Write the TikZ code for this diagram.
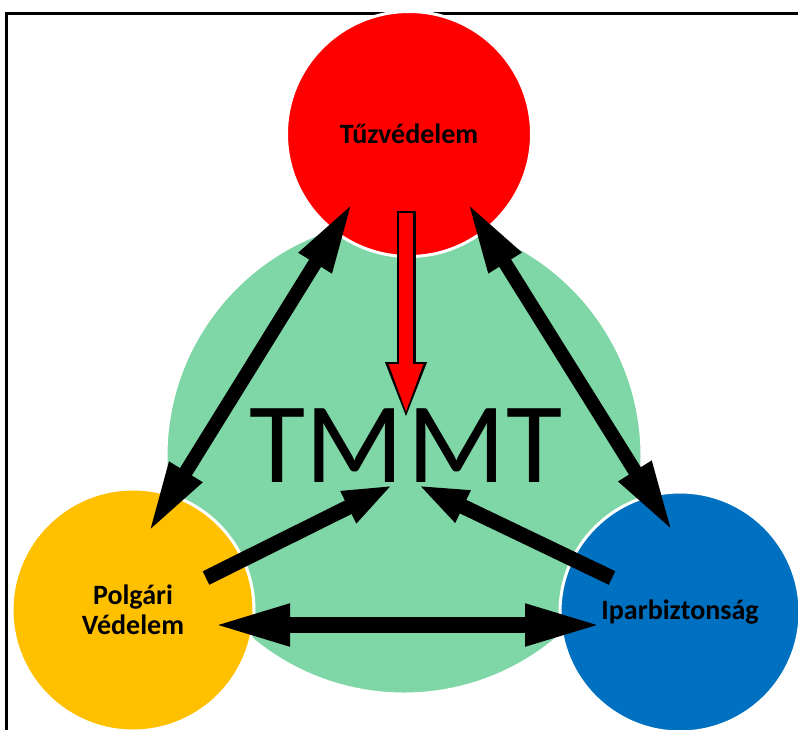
\documentclass[tikz,border=0pt]{standalone}
\usepackage{fontspec}
\setmainfont{Carlito}
\usetikzlibrary{arrows.meta,calc}
\definecolor{fireRed}{RGB}{255,0,0}
\definecolor{coreGreen}{RGB}{127,214,166}
\definecolor{civilYellow}{RGB}{255,192,0}
\definecolor{indBlue}{RGB}{0,112,192}
\begin{document}
\begin{tikzpicture}[x=1pt,y=-1pt,
  ring/.style={circle,draw=white,line width=3pt,inner sep=0pt,align=center,
               font=\fontsize{28}{30}\selectfont\bfseries},
  both/.style={line width=14pt,
               {Triangle[length=72pt,width=35pt]}-{Triangle[length=72pt,width=35pt]}},
  flat/.style={line width=16pt,
               {Triangle[length=78pt,width=38pt]}-{Triangle[length=78pt,width=38pt]}},
  into/.style={line width=15pt,-{Triangle[length=50pt,width=32pt]}}]
\useasboundingbox (0,0) rectangle (798,729);
\draw[line width=3pt] (6,760) |- (830,13);

\node[ring,fill=coreGreen,minimum size=476pt] (core) at (404,456) {};
\node[ring,fill=fireRed,minimum size=245pt] (fire) at (409,134) {Tűzvédelem};
\node[ring,fill=civilYellow,minimum size=242pt] (civil) at (133,610) {Polgári\\Védelem};
\node[ring,fill=indBlue,minimum size=240pt] (ind) at (680,612) {Iparbiztonság};
\node[font=\fontsize{115}{115}\selectfont,inner sep=0pt] (tmmt) at (406,446)
  {TM\kern4pt MT};

\draw[both] ($(fire)+(-56,68)$) -- ($(civil)+(15,-77)$);
\draw[both] ($(fire)+(58,68)$) -- ($(ind)+(-7,-80)$);
\draw[flat] ($(civil)+(79,15)$) -- ($(ind)+(-77,13)$);
\draw[into] ($(civil)+(73,-32)$) -- ($(tmmt)+(-13,39)$);
\draw[into] ($(ind)+(-68,-34)$) -- ($(tmmt)+(12,39)$);

\draw[line width=19pt,-{Triangle[length=58pt,width=37pt]}]
  ($(fire)+(-3,77)$) -- ($(tmmt)+(0,-26)$);
\draw[fireRed,line width=14pt,-{Triangle[length=52pt,width=30pt]}]
  ($(fire)+(-3,79)$) -- ($(tmmt)+(0,-30)$);
\end{tikzpicture}
\end{document}
